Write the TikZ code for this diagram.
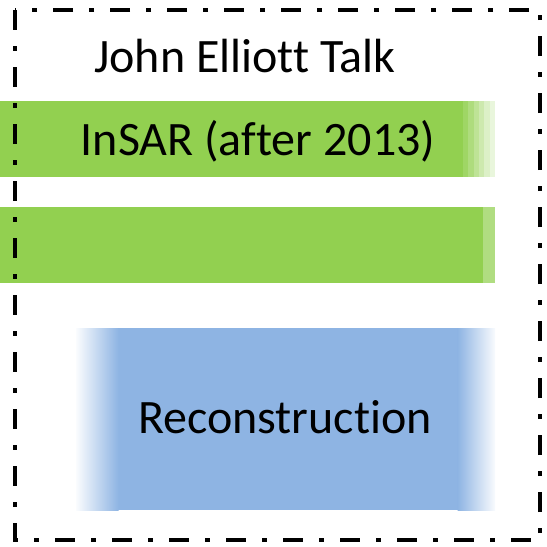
\documentclass[tikz,border=0pt]{standalone}
\usepackage{fontspec}
\setmainfont{Carlito}[Ligatures=NoCommon]
\definecolor{barGreen}{HTML}{92D050}
\definecolor{boxBlue}{HTML}{8EB4E3}
\begin{document}
\begin{tikzpicture}[x=1pt,y=-1pt,
  caption/.style={font=\fontsize{48}{54}\selectfont, inner sep=0pt, anchor=base},
  panel/.style={inner sep=0pt, outer sep=0pt, anchor=north west, draw=none},
  greenbar/.style={panel, fill=barGreen, minimum height=76pt},
  bluebox/.style={panel, fill=boxBlue, minimum height=182pt},
  frame/.style={line width=4.5pt, dash pattern=on 20pt off 16pt on 5pt off 16pt}]
\useasboundingbox (0,0) rectangle (547,547);

% green bar with the label, fading out to the right
\node[greenbar, minimum width=463pt] (insarBar) at (0,101) {};
\foreach \k/\c in {0/88,1/74,2/60,3/46,4/32,5/20}
  \fill[barGreen!\c] ({463+\k*5.34},101) rectangle ({463+(\k+1)*5.34},177);

% second green bar
\node[greenbar, minimum width=483pt] (plainBar) at (0,207) {};
\fill[barGreen!72] (483,207) rectangle (495,283);

% blue box with soft left and right edges
\node[bluebox, minimum width=340pt] (reconBox) at (118,328) {};
\shade[left color=boxBlue!4, right color=boxBlue] (76,328) rectangle (118.5,510);
\shade[left color=boxBlue, right color=boxBlue!6] (457.5,328) rectangle (495,510);

% texts
\node[caption] (title) at (245,72) {John Elliott Talk};
\node[caption] (insarText) at (258,155) {InSAR (after 2013)};
\node[caption] (reconText) at (285,433) {Reconstruction};

% dash-dotted frame round everything
\draw[frame] (15,10) rectangle (540,540);
\end{tikzpicture}
\end{document}
